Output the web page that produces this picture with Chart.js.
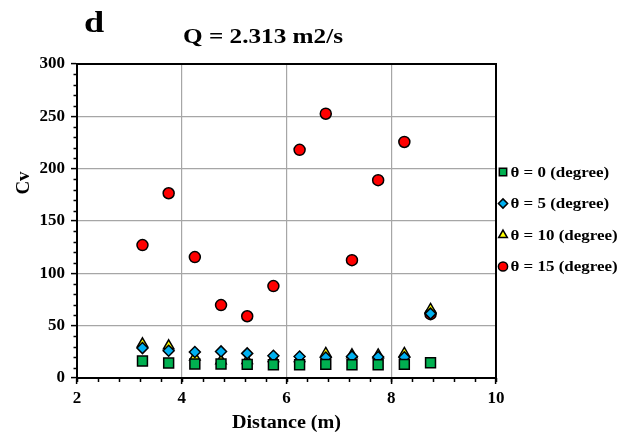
<!DOCTYPE html>
<html>
<head>
<meta charset="utf-8">
<script src="https://cdn.jsdelivr.net/npm/chart.js@4.4.1/dist/chart.umd.min.js"></script>
<style>
  html, body { margin: 0; padding: 0; background: #fff; }
  #wrap { width: 633px; height: 437px; }
</style>
</head>
<body>
<div id="wrap"><canvas id="cvChart" width="633" height="437"></canvas></div>
<script>
// distances along the channel (m)
const distance = [3.25, 3.75, 4.25, 4.75, 5.25, 5.75, 6.25, 6.75, 7.25, 7.75, 8.25, 8.75];

// Cv for each bed angle
const cvTheta0  = [16.2, 14.3, 13.4, 13.4, 13.0, 12.7, 12.7, 13.0, 12.7, 12.7, 13.0, 14.6];
const cvTheta5  = [28.6, 26.0, 24.8, 25.4, 23.5, 21.3, 20.6, 19.5, 20.6, 20.0, 19.8, 61.5];
const cvTheta10 = [32.7, 30.8, 20.0, 16.5, 16.8, 18.7, 18.7, 23.5, 22.2, 22.0, 23.5, 65.5];
const cvTheta15 = [127, 176.5, 115.5, 69.7, 59, 87.8, 218, 252.5, 112.6, 189, 225.5, 61];

const xTicks = [2, 4, 6, 8, 10];
const yTicks = [0, 50, 100, 150, 200, 250, 300];

const serif = "'Liberation Serif', 'Times New Roman', serif";

function pts(ys) {
    return distance.map((x, i) => ({ x, y: ys[i] }));
}

function series(label, ys, color, style, radius, keyRadius) {
    return {
        label,
        data: pts(ys),
        pointStyle: style,
        pointRadius: radius,
        pointHoverRadius: radius,
        keyRadius,
        backgroundColor: color,
        borderColor: '#000',
        pointBorderWidth: 1.5,
        borderWidth: 1.5,
        showLine: false
    };
}

// text drawn a little wider than the font, like the original figure
function wideText(ctx, text, x, y, font, sx, align) {
    ctx.save();
    ctx.font = font;
    ctx.translate(x, y);
    ctx.scale(sx, 1);
    ctx.textAlign = align || 'center';
    ctx.fillText(text, 0, 0);
    ctx.restore();
}

// minor tick marks, box, legend and the text outside the axes
const extras = {
    id: 'extras',
    afterDraw(chart) {
        const ctx = chart.ctx;
        const xs = chart.scales.x, ys = chart.scales.y;
        const area = chart.chartArea;
        ctx.save();
        ctx.strokeStyle = '#000';
        ctx.lineWidth = 1.5;
        ctx.beginPath();
        for (let v = 2; v <= 10.001; v += 0.4) {
            const px = Math.round(xs.getPixelForValue(v)) + 0.5;
            ctx.moveTo(px, area.bottom);
            ctx.lineTo(px, area.bottom + 4);
        }
        for (let v = 0; v <= 300; v += 10) {
            if (v % 50 === 0) continue;
            const py = Math.round(ys.getPixelForValue(v)) + 0.5;
            ctx.moveTo(area.left, py);
            ctx.lineTo(area.left - 3.5, py);
        }
        ctx.stroke();

        ctx.lineWidth = 2;
        ctx.strokeRect(area.left, area.top, area.right - area.left, area.bottom - area.top);

        ctx.fillStyle = '#000';
        ctx.textBaseline = 'alphabetic';
        wideText(ctx, 'Q = 2.313 m2/s', 263, 43, 'bold 21px ' + serif, 1.2);
        wideText(ctx, 'd', 84, 32, 'bold 29px ' + serif, 1.25, 'left');
        wideText(ctx, 'Distance (m)', 286.5, 428, 'bold 18px ' + serif, 1.12);

        ctx.save();
        ctx.translate(29, 183);
        ctx.rotate(-Math.PI / 2);
        ctx.textAlign = 'center';
        ctx.font = 'bold 19px ' + serif;
        ctx.fillText('Cv', 0, 0);
        ctx.restore();

        // legend
        const rows = [172, 203.5, 235, 266.5];
        chart.data.datasets.forEach((ds, i) => {
            ctx.save();
            ctx.fillStyle = ds.backgroundColor;
            ctx.strokeStyle = '#000';
            ctx.lineWidth = 1.5;
            Chart.helpers.drawPoint(ctx, {
                pointStyle: ds.pointStyle,
                radius: ds.keyRadius,
                borderWidth: 1.5,
                rotation: 0
            }, 503, rows[i]);
            ctx.restore();
            ctx.fillStyle = '#000';
            ctx.textBaseline = 'middle';
            wideText(ctx, ds.label, 510.5, rows[i] + 1, 'bold 15px ' + serif, 1.13, 'left');
        });
        ctx.restore();
    }
};

new Chart(document.getElementById('cvChart'), {
    type: 'scatter',
    data: {
        datasets: [
            series('θ = 0 (degree)', cvTheta0, '#00B050', 'rect', 7, 5.2),
            series('θ = 5 (degree)', cvTheta5, '#00B0F0', 'rectRot', 5.5, 4.6),
            series('θ = 10 (degree)', cvTheta10, '#FFFF00', 'triangle', 6, 5),
            series('θ = 15 (degree)', cvTheta15, '#FF0000', 'circle', 5.5, 4.6)
        ]
    },
    options: {
        responsive: false,
        animation: false,
        layout: { padding: { top: 64, right: 137, left: 0, bottom: 0 } },
        plugins: {
            tooltip: { enabled: false },
            title: { display: false },
            legend: { display: false }
        },
        scales: {
            x: {
                type: 'linear',
                min: 2,
                max: 10,
                afterBuildTicks: s => { s.ticks = xTicks.map(v => ({ value: v })); },
                afterFit: s => { s.height = 59; },
                ticks: {
                    color: '#000',
                    padding: 4,
                    maxRotation: 0,
                    font: { family: serif, size: 17, weight: 'bold' }
                },
                grid: {
                    color: '#a6a6a6',
                    lineWidth: 1.2,
                    tickColor: '#000',
                    tickLength: 6,
                    tickWidth: 1.5
                },
                border: { color: '#000', width: 2 }
            },
            y: {
                min: 0,
                max: 300,
                afterBuildTicks: s => { s.ticks = yTicks.map(v => ({ value: v })); },
                afterFit: s => { s.width = 77; },
                ticks: {
                    color: '#000',
                    padding: 6,
                    font: { family: serif, size: 17, weight: 'bold' }
                },
                grid: {
                    color: '#a6a6a6',
                    lineWidth: 1.2,
                    tickColor: '#000',
                    tickLength: 6,
                    tickWidth: 1.5
                },
                border: { color: '#000', width: 2 }
            }
        }
    },
    plugins: [extras]
});
</script>
</body>
</html>
